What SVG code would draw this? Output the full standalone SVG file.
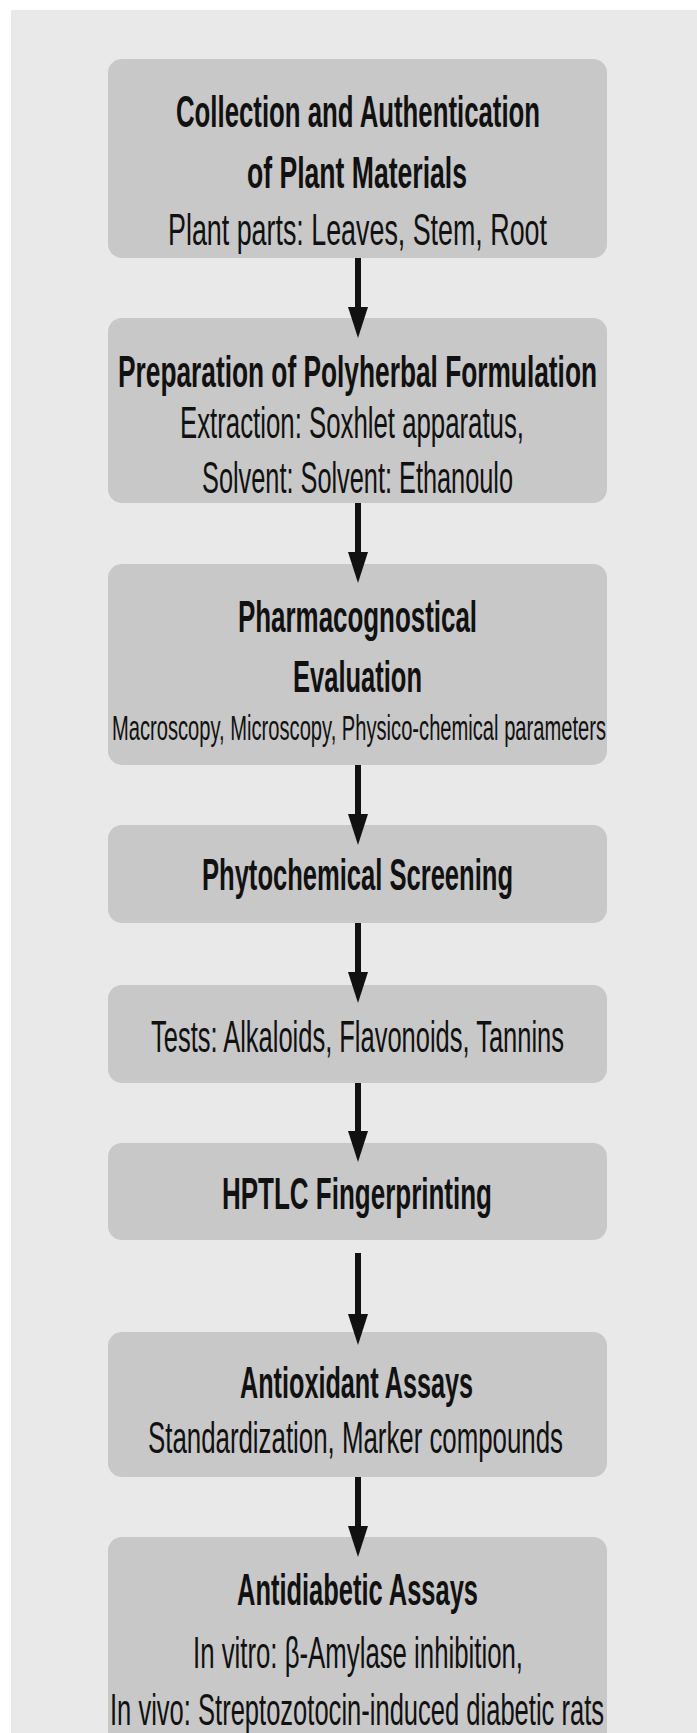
<svg xmlns="http://www.w3.org/2000/svg" width="697" height="1733" viewBox="0 0 697 1733">
  <style>
    .box { fill: #c8c8c8; }
    .t { font-family: "Liberation Sans", Arial, sans-serif; font-size: 45px; fill: #111111; text-anchor: middle; }
    .b { font-weight: 700; }
    .s { font-size: 35px; }
    .edge { stroke: #111111; stroke-width: 6; fill: none; }
    .head { fill: #111111; }
  </style>
  <rect x="0" y="0" width="697" height="1733" fill="#ffffff"/>
  <rect x="11" y="10" width="686" height="1723" fill="#e9e9e9"/>

  <g id="node1">
    <rect class="box" x="108" y="59" width="499" height="199" rx="14"/>
    <text class="t b" x="0" y="0" transform="translate(358,127) scale(0.58,1)" textLength="627.6" lengthAdjust="spacingAndGlyphs">Collection and Authentication</text>
    <text class="t b" x="0" y="0" transform="translate(357,188) scale(0.58,1)" textLength="379.3" lengthAdjust="spacingAndGlyphs">of Plant Materials</text>
    <text class="t" x="0" y="0" transform="translate(357.5,245) scale(0.58,1)" textLength="653.4" lengthAdjust="spacingAndGlyphs">Plant parts: Leaves, Stem, Root</text>
  </g>
  <g id="node2">
    <rect class="box" x="108" y="318" width="499" height="185" rx="14"/>
    <text class="t b" x="0" y="0" transform="translate(357.5,387) scale(0.58,1)" textLength="825.9" lengthAdjust="spacingAndGlyphs">Preparation of Polyherbal Formulation</text>
    <text class="t" x="0" y="0" transform="translate(352,438) scale(0.58,1)" textLength="593.1" lengthAdjust="spacingAndGlyphs">Extraction: Soxhlet apparatus,</text>
    <text class="t" x="0" y="0" transform="translate(357.5,493) scale(0.58,1)" textLength="536.2" lengthAdjust="spacingAndGlyphs">Solvent: Solvent: Ethanoulo</text>
  </g>
  <g id="node3">
    <rect class="box" x="108" y="564" width="499" height="201" rx="14"/>
    <text class="t b" x="0" y="0" transform="translate(357.5,632) scale(0.58,1)" textLength="412.1" lengthAdjust="spacingAndGlyphs">Pharmacognostical</text>
    <text class="t b" x="0" y="0" transform="translate(357.5,692) scale(0.58,1)" textLength="222.4" lengthAdjust="spacingAndGlyphs">Evaluation</text>
    <text class="t s" x="0" y="0" transform="translate(359,740) scale(0.58,1)" textLength="851.7" lengthAdjust="spacingAndGlyphs">Macroscopy, Microscopy, Physico-chemical parameters</text>
  </g>
  <g id="node4">
    <rect class="box" x="108" y="825" width="499" height="98" rx="14"/>
    <text class="t b" x="0" y="0" transform="translate(357.5,890) scale(0.58,1)" textLength="536.2" lengthAdjust="spacingAndGlyphs">Phytochemical Screening</text>
  </g>
  <g id="node5">
    <rect class="box" x="108" y="985" width="499" height="98" rx="14"/>
    <text class="t" x="0" y="0" transform="translate(357.5,1052) scale(0.58,1)" textLength="712.1" lengthAdjust="spacingAndGlyphs">Tests: Alkaloids, Flavonoids, Tannins</text>
  </g>
  <g id="node6">
    <rect class="box" x="108" y="1143" width="499" height="97" rx="14"/>
    <text class="t b" x="0" y="0" transform="translate(357,1209) scale(0.58,1)" textLength="465.5" lengthAdjust="spacingAndGlyphs">HPTLC Fingerprinting</text>
  </g>
  <g id="node7">
    <rect class="box" x="108" y="1332" width="499" height="145" rx="14"/>
    <text class="t b" x="0" y="0" transform="translate(356.5,1398) scale(0.58,1)" textLength="401.7" lengthAdjust="spacingAndGlyphs">Antioxidant Assays</text>
    <text class="t" x="0" y="0" transform="translate(355.5,1453) scale(0.58,1)" textLength="715.5" lengthAdjust="spacingAndGlyphs">Standardization, Marker compounds</text>
  </g>
  <g id="node8">
    <rect class="box" x="108" y="1537" width="499" height="210" rx="14"/>
    <text class="t b" x="0" y="0" transform="translate(357.5,1605) scale(0.58,1)" textLength="415.5" lengthAdjust="spacingAndGlyphs">Antidiabetic Assays</text>
    <text class="t" x="0" y="0" transform="translate(358,1668) scale(0.58,1)" textLength="569" lengthAdjust="spacingAndGlyphs">In vitro: β-Amylase inhibition,</text>
    <text class="t" x="0" y="0" transform="translate(357,1725) scale(0.58,1)" textLength="851.7" lengthAdjust="spacingAndGlyphs">In vivo: Streptozotocin-induced diabetic rats</text>
  </g>

  <g id="connectors">
    <line class="edge" x1="358" y1="258" x2="358" y2="309"/>
    <polygon class="head" points="348,307 368,307 358,338"/>
    <line class="edge" x1="358" y1="503" x2="358" y2="554"/>
    <polygon class="head" points="348,552 368,552 358,583"/>
    <line class="edge" x1="358" y1="765" x2="358" y2="816"/>
    <polygon class="head" points="348,814 368,814 358,845"/>
    <line class="edge" x1="358" y1="923" x2="358" y2="974"/>
    <polygon class="head" points="348,972 368,972 358,1003"/>
    <line class="edge" x1="358" y1="1083" x2="358" y2="1133"/>
    <polygon class="head" points="348,1131 368,1131 358,1162"/>
    <line class="edge" x1="358" y1="1253" x2="358" y2="1316"/>
    <polygon class="head" points="348,1314 368,1314 358,1345"/>
    <line class="edge" x1="358" y1="1477" x2="358" y2="1528"/>
    <polygon class="head" points="348,1526 368,1526 358,1557"/>
  </g>
</svg>
